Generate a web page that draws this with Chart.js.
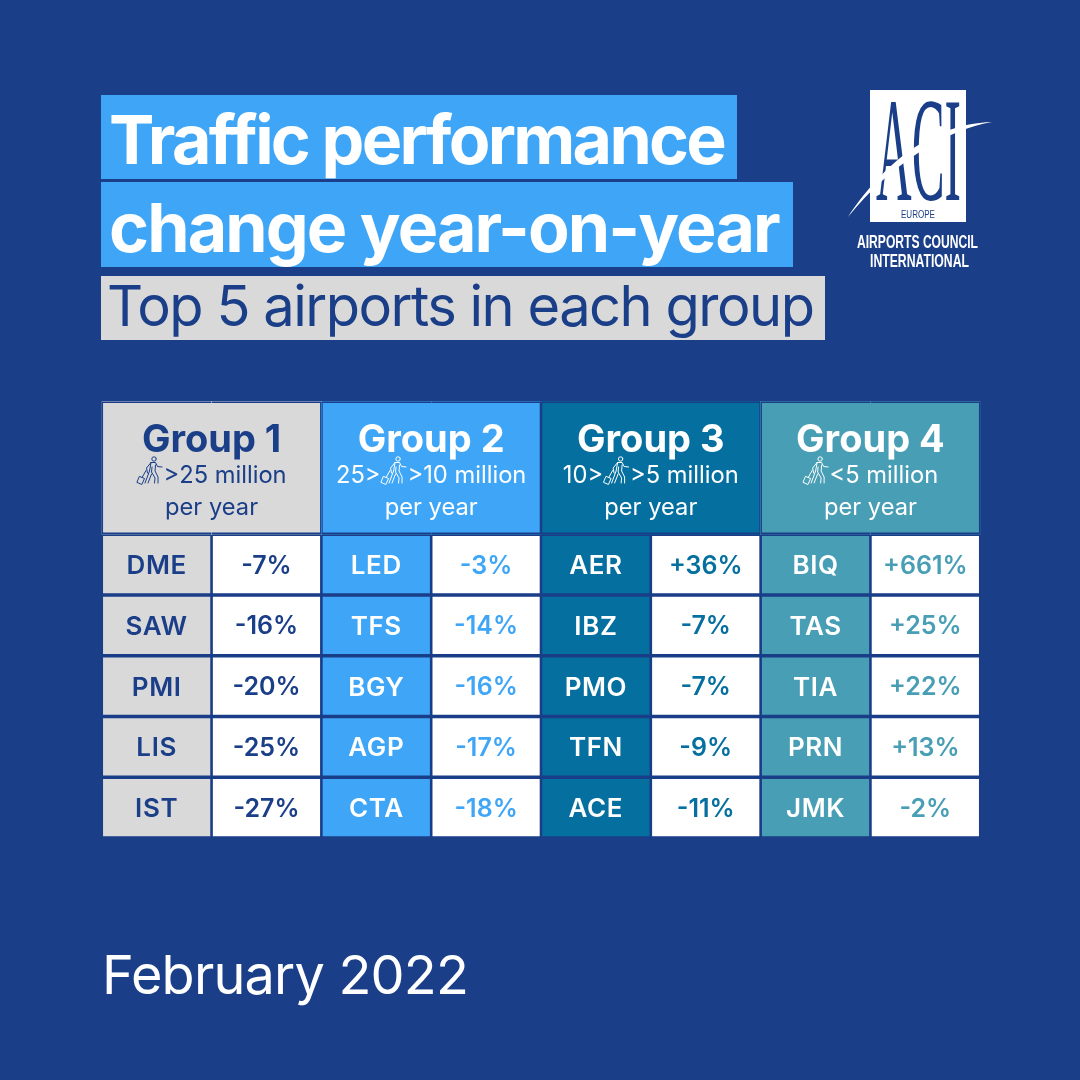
<!DOCTYPE html>
<html>
<head>
<meta charset="utf-8">
<title>Traffic performance change year-on-year</title>
<script src="https://cdn.jsdelivr.net/npm/chart.js@4"></script>
<style>
  html, body { margin: 0; padding: 0; background: #1a3e88; }
  #page { position: relative; width: 1080px; height: 1080px; overflow: hidden; font-family: Inter, sans-serif; background: #1a3e88; }
  #tableChart { position: absolute; left: 0; top: 0; }
  .box { position: absolute; left: 101px; white-space: nowrap; box-sizing: border-box; }
  #line1, #line2 { background: #3fa6f7; color: #fff; font-weight: 700; font-size: 68px; padding-left: 8px; }
  #line1 { top: 95px; width: 636px; height: 84px; line-height: 88px; letter-spacing: -2.7px; }
  #line2 { top: 182px; width: 692px; height: 85px; line-height: 90px; letter-spacing: -1.85px; }
  #line3 { top: 276px; width: 724px; height: 64px; line-height: 60px; background: #d9d9d9; color: #1a3e88; font-size: 56px; letter-spacing: -1.5px; padding-left: 6px; }
  #month { position: absolute; left: 102px; top: 939px; line-height: 72px; color: #fff; font-size: 54px; letter-spacing: -0.8px; white-space: nowrap; }
  #logo { position: absolute; left: 0; top: 0; }
</style>
</head>
<body>
<div id="page">
  <div class="box" id="line1">Traffic performance</div>
  <div class="box" id="line2">change year-on-year</div>
  <div class="box" id="line3">Top 5 airports in each group</div>
  <canvas id="tableChart" width="1080" height="1080"></canvas>
  <div id="month">February 2022</div>
  <svg id="logo" width="1080" height="300" viewBox="0 0 1080 300">
    <rect x="870" y="90" width="96" height="132" fill="#fff"/>
    <text x="876" y="200" font-family="Liberation Serif" font-size="148" fill="#1a3e88" textLength="85" lengthAdjust="spacingAndGlyphs">ACI</text>
    <text x="918" y="218" text-anchor="middle" font-family="Liberation Sans" font-size="11" fill="#1a3e88" textLength="34" lengthAdjust="spacingAndGlyphs">EUROPE</text>
    <path d="M848 217 C 878 172, 925 124, 992 122 C 945 130, 890 165, 848 217 Z" fill="#fff"/>
    <text x="857" y="248" font-family="Liberation Sans" font-weight="700" font-size="18" fill="#fff" textLength="121" lengthAdjust="spacingAndGlyphs">AIRPORTS COUNCIL</text>
    <text x="870" y="267" font-family="Liberation Sans" font-weight="700" font-size="18" fill="#fff" textLength="99" lengthAdjust="spacingAndGlyphs">INTERNATIONAL</text>
  </svg>
</div>
<script>
// Table data
var groupNames = ["Group 1", "Group 2", "Group 3", "Group 4"];
var rangeBefore = ["", "25>", "10>", ""];
var rangeAfter = [">25 million", ">10 million", ">5 million", "<5 million"];
var rangeSecondLine = "per year";
var group1Codes = ["DME", "SAW", "PMI", "LIS", "IST"];
var group1Values = [-7, -16, -20, -25, -27];
var group2Codes = ["LED", "TFS", "BGY", "AGP", "CTA"];
var group2Values = [-3, -14, -16, -17, -18];
var group3Codes = ["AER", "IBZ", "PMO", "TFN", "ACE"];
var group3Values = [36, -7, -7, -9, -11];
var group4Codes = ["BIQ", "TAS", "TIA", "PRN", "JMK"];
var group4Values = [661, 25, 22, 13, -2];

var allCodes = [group1Codes, group2Codes, group3Codes, group4Codes];
var allValues = [group1Values, group2Values, group3Values, group4Values];

var navy = "#1a3e88";
var groupColors = ["#d9d9d9", "#3fa6f7", "#05709f", "#489eb4"];
var headerTextColors = [navy, "#fff", "#fff", "#fff"];
var valueTextColors = [navy, "#3fa6f7", "#05709f", "#489eb4"];
var headerRows = 2.19;
var gapX = 1.3;
var gapY = 1.85;

// two columns per group: code, then value
var columns = [];
groupNames.forEach(function(name) {
  columns.push(name + " airport");
  columns.push(name + " change");
});

function groupOf(col) {
  return Math.floor(col / 2);
}

function formatValue(v) {
  return (v > 0 ? "+" : "") + v + "%";
}

// Chart.js paints the first dataset last, so rows go first, then the header
// frame, and the header fill goes at the very end (underneath everything)
var datasets = [];

group1Codes.forEach(function(code, row) {
  datasets.push({
    label: "Row " + (row + 1),
    data: columns.map(function() { return [headerRows + row, headerRows + row + 1]; }),
    backgroundColor: columns.map(function(c, i) { return i % 2 === 0 ? groupColors[groupOf(i)] : "#fff"; }),
    borderColor: navy,
    borderWidth: { top: gapY, bottom: gapY, left: gapX, right: gapX },
    borderSkipped: false,
    inflateAmount: 0
  });
});

datasets.push({
  label: "Header frame",
  data: columns.map(function() { return [0, headerRows]; }),
  backgroundColor: "rgba(0,0,0,0)",
  borderColor: navy,
  borderWidth: columns.map(function(c, i) {
    return {
      top: gapY, bottom: gapY,
      left: i % 2 === 0 ? gapX : 0,
      right: i % 2 === 0 ? 0 : gapX
    };
  }),
  borderSkipped: false,
  inflateAmount: 0
});

// no border here so the two halves of a group overlap without a seam
datasets.push({
  label: "Header",
  data: columns.map(function() { return [0, headerRows]; }),
  backgroundColor: columns.map(function(c, i) { return groupColors[groupOf(i)]; }),
  borderWidth: 0,
  inflateAmount: 0.6
});

// small walking traveller with a suitcase, 26 wide by 30 high
function drawTraveller(ctx, x, y, color) {
  ctx.save();
  ctx.translate(x, y);
  ctx.strokeStyle = color;
  ctx.lineWidth = 1;
  ctx.lineJoin = "round";
  ctx.lineCap = "round";
  ctx.beginPath();
  ctx.arc(17.5, 3, 2.2, 0, Math.PI * 2);
  ctx.stroke();
  ctx.beginPath();
  // torso and legs outline
  ctx.moveTo(14.5, 6.5);
  ctx.lineTo(19, 6.5);
  ctx.lineTo(21, 10.5);
  ctx.lineTo(25.5, 11);
  ctx.moveTo(14.5, 6.5);
  ctx.lineTo(10, 12);
  ctx.lineTo(11, 17);
  ctx.moveTo(14.5, 6.5);
  ctx.lineTo(13, 15);
  ctx.lineTo(8.5, 27);
  ctx.moveTo(19, 9);
  ctx.lineTo(18.5, 15);
  ctx.lineTo(21.5, 21);
  ctx.lineTo(21.5, 27);
  ctx.moveTo(15.5, 11);
  ctx.lineTo(15, 16);
  ctx.lineTo(18.5, 22);
  ctx.lineTo(18, 27);
  ctx.moveTo(15, 18);
  ctx.lineTo(11.5, 27);
  ctx.stroke();
  // suitcase
  ctx.beginPath();
  ctx.moveTo(3.2, 20.5);
  ctx.lineTo(8, 22.5);
  ctx.lineTo(5.3, 28.5);
  ctx.lineTo(0.7, 26.5);
  ctx.closePath();
  ctx.moveTo(5.6, 21.5);
  ctx.lineTo(9.5, 14.5);
  ctx.stroke();
  ctx.restore();
}

var cellTextPlugin = {
  id: "cellText",
  afterDatasetsDraw: function(chart) {
    var ctx = chart.ctx;
    var iconWidth = 27;
    ctx.save();
    ctx.textAlign = "left";
    ctx.textBaseline = "alphabetic";

    groupNames.forEach(function(name, g) {
      var left = chart.scales.x.getPixelForValue(g * 2);
      var right = chart.scales.x.getPixelForValue(g * 2 + 1);
      var center = (left + right) / 2;
      var color = headerTextColors[g];
      ctx.fillStyle = color;

      ctx.textAlign = "center";
      ctx.font = "700 38px Inter";
      ctx.fillText(name, center, 452);

      ctx.font = "400 23.7px Inter";
      ctx.fillText(rangeSecondLine, center, 515);

      var w1 = ctx.measureText(rangeBefore[g]).width;
      var w2 = ctx.measureText(rangeAfter[g]).width;
      var start = center - (w1 + iconWidth + w2) / 2;
      ctx.textAlign = "left";
      if (rangeBefore[g]) ctx.fillText(rangeBefore[g], start, 483);
      drawTraveller(ctx, start + w1, 456, color);
      ctx.fillStyle = color;
      ctx.fillText(rangeAfter[g], start + w1 + iconWidth, 483);

      ctx.textAlign = "center";
      allCodes[g].forEach(function(code, row) {
        var codeBar = chart.getDatasetMeta(row).data[g * 2];
        var valueBar = chart.getDatasetMeta(row).data[g * 2 + 1];
        var midY = (codeBar.y + codeBar.base) / 2;
        ctx.fillStyle = color;
        ctx.letterSpacing = "0.6px";
        ctx.font = "600 26px Inter";
        ctx.fillText(code, codeBar.x, midY + 9.5);
        ctx.letterSpacing = "0px";
        ctx.fillStyle = valueTextColors[g];
        ctx.font = "600 25px Inter";
        ctx.fillText(formatValue(allValues[g][row]), valueBar.x, midY + 9);
      });
    });
    ctx.restore();
  }
};

function drawChart() {
  new Chart(document.getElementById("tableChart").getContext("2d"), {
    type: "bar",
    data: { labels: columns, datasets: datasets },
    options: {
      responsive: false,
      animation: false,
      events: [],
      layout: { padding: { left: 101.75, right: 99.75, top: 401.2, bottom: 242 } },
      datasets: { bar: { grouped: false, barPercentage: 1, categoryPercentage: 1 } },
      scales: {
        x: { display: false },
        y: { display: false, reverse: true, min: 0, max: headerRows + group1Codes.length }
      },
      plugins: { legend: { display: false }, tooltip: { enabled: false } }
    },
    plugins: [cellTextPlugin]
  });
}

// wait for the installed font before drawing on the canvas
if (document.fonts && document.fonts.load) {
  Promise.all([
    document.fonts.load("700 38px Inter"),
    document.fonts.load("600 26px Inter"),
    document.fonts.load("400 24px Inter")
  ]).then(drawChart, drawChart);
} else {
  drawChart();
}
</script>
</body>
</html>
